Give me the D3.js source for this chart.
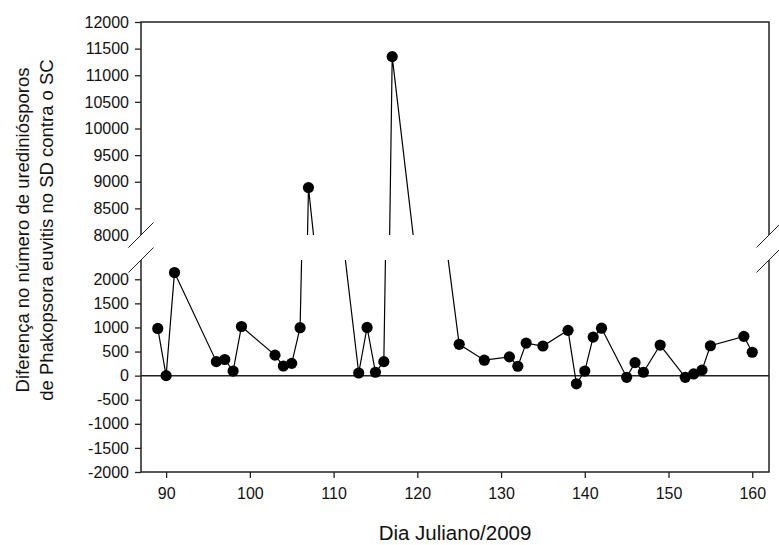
<!DOCTYPE html>
<html lang="pt">
<head>
<meta charset="UTF-8">
<title>Diferença de urediniósporos</title>
<style>
  body { margin: 0; background: #fff; }
  svg { display: block; font-family: "Liberation Sans", Arial, sans-serif; }
  .tick text { font-size: 16px; fill: #111; }
</style>
</head>
<body>
<div id="chart"></div>
<script src="https://d3js.org/d3.v7.min.js"></script>
<script>
const width = 779
const height = 545

// dias julianos e diferença (SD - SC)
const days = [89, 90, 91, 96, 97, 98, 99, 103, 104, 105, 106, 107, 113, 114, 115, 116, 117,
  125, 128, 131, 132, 133, 135, 138, 139, 140, 141, 142, 145, 146, 147, 149, 152, 153, 154, 155, 159, 160]
const diffs = [980, 0, 2140, 290, 335, 95, 1020, 425, 200, 255, 995, 8890, 55, 1000, 70, 290, 11350,
  650, 320, 390, 195, 675, 615, 940, -170, 95, 800, 985, -35, 270, 70, 635, -35, 35, 115, 620, 815, 485]

const xTicks = [90, 100, 110, 120, 130, 140, 150, 160]
const yTopTicks = [8000, 8500, 9000, 9500, 10000, 10500, 11000, 11500, 12000]
const yBotTicks = [-2000, -1500, -1000, -500, 0, 500, 1000, 1500, 2000]

const data = days.map((d, i) => ({ day: d, value: diffs[i] }))

const left = 141, right = 769
const top1 = 22, bot1 = 235   // painel superior
const top2 = 260, bot2 = 472  // painel inferior

const x = d3.scaleLinear().domain([87, 162]).range([left, right])
const yTop = d3.scaleLinear().domain([8000, 12000]).range([bot1, top1])
const yBot = d3.scaleLinear().domain([-2000, 2400]).range([bot2, top2])

const svg = d3.select('#chart').append('svg')
  .attr('width', width)
  .attr('height', height)

const defs = svg.append('defs')
defs.append('clipPath').attr('id', 'clipTop')
  .append('rect').attr('x', left).attr('y', top1).attr('width', right - left).attr('height', bot1 - top1)
defs.append('clipPath').attr('id', 'clipBot')
  .append('rect').attr('x', left).attr('y', top2).attr('width', right - left).attr('height', bot2 - top2)

const stroke = '#222'
const fmt = d => String(d)   // hífen simples, como no original

// eixos
const gTop = svg.append('g').attr('transform', `translate(${left},0)`)
  .call(d3.axisLeft(yTop).tickValues(yTopTicks).tickFormat(fmt).tickSize(6).tickPadding(6))
gTop.select('.domain').remove()
gTop.selectAll('.tick').filter(d => d === 8000).select('line').remove()

const gBot = svg.append('g').attr('transform', `translate(${left},0)`)
  .call(d3.axisLeft(yBot).tickValues(yBotTicks).tickFormat(fmt).tickSize(6).tickPadding(6))
gBot.select('.domain').remove()

const gX = svg.append('g').attr('transform', `translate(0,${bot2})`)
  .call(d3.axisBottom(x).tickValues(xTicks).tickFormat(fmt).tickSize(6).tickPadding(10))
gX.select('.domain').remove()

svg.selectAll('.tick line').attr('stroke', stroke).attr('stroke-width', 1.3)

// molduras
const frame = svg.append('g').attr('fill', 'none').attr('stroke', stroke).attr('stroke-width', 1.5)
frame.append('path').attr('d', `M${left},${bot1}V${top1}H${right}V${bot1}`)
frame.append('path').attr('d', `M${left},${top2}V${bot2}H${right}V${top2}`)

// marcas de quebra
const breaks = svg.append('g').attr('stroke', stroke).attr('stroke-width', 1)
;[left, right].forEach(bx => {
  ;[bot1, top2].forEach(by => {
    breaks.append('line')
      .attr('x1', bx - 12.5).attr('y1', by + 12.5)
      .attr('x2', bx + 12.5).attr('y2', by - 12.5)
  })
})
svg.append('g').attr('stroke', '#fff').attr('stroke-width', 2)
  .selectAll('line').data([left, right]).enter().append('line')
  .attr('x1', d => d).attr('x2', d => d).attr('y1', bot1 + 1).attr('y2', top2 - 1)

// linha do zero
svg.append('line')
  .attr('x1', left).attr('x2', right)
  .attr('y1', yBot(0)).attr('y2', yBot(0))
  .attr('stroke', stroke).attr('stroke-width', 1.5)

// séries nos dois painéis
function drawPanel(yScale, clipId) {
  const g = svg.append('g').attr('clip-path', `url(#${clipId})`)
  const line = d3.line().x(d => x(d.day)).y(d => yScale(d.value))
  g.append('path').datum(data)
    .attr('d', line)
    .attr('fill', 'none')
    .attr('stroke', '#000')
    .attr('stroke-width', 1.2)
  g.selectAll('circle').data(data).enter().append('circle')
    .attr('cx', d => x(d.day))
    .attr('cy', d => yScale(d.value))
    .attr('r', 5.6)
    .attr('fill', '#000')
}
drawPanel(yTop, 'clipTop')
drawPanel(yBot, 'clipBot')

// títulos
svg.append('text')
  .attr('x', (left + right) / 2)
  .attr('y', 540)
  .attr('text-anchor', 'middle')
  .attr('font-size', 20.5)
  .attr('fill', '#111')
  .text('Dia Juliano/2009')

const yLabel = svg.append('text')
  .attr('transform', 'translate(0,230) rotate(-90)')
  .attr('text-anchor', 'middle')
  .attr('font-size', 18.5)
  .attr('fill', '#111')
yLabel.append('tspan').attr('x', 0).attr('y', 29).text('Diferença no número de urediniósporos')
yLabel.append('tspan').attr('x', 0).attr('y', 53).text('de Phakopsora euvitis no SD contra o SC')
</script>
</body>
</html>
